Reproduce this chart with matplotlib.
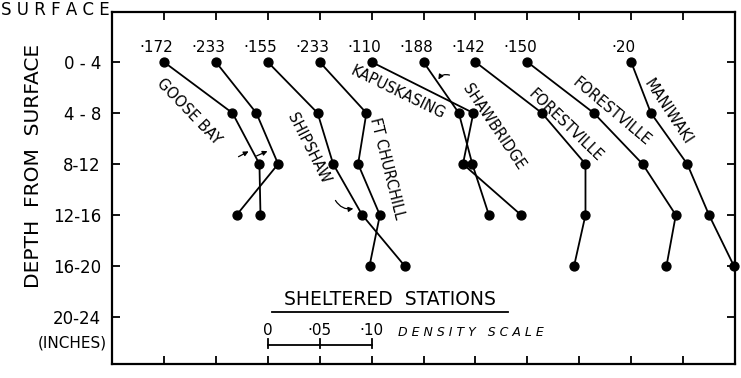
import matplotlib
matplotlib.use("Agg")
import matplotlib.pyplot as plt

# ---------------- data ----------------
depth_labels = ["0 - 4", "4 - 8", "8-12", "12-16", "16-20", "20-24"]
depth_rows = [1, 2, 3, 4, 5, 6]

station_names = ["GOOSE BAY", "GOOSE BAY", "SHIPSHAW", "FT CHURCHILL", "KAPUSKASING",
                 "SHAWBRIDGE", "FORESTVILLE", "FORESTVILLE", "MANIWAKI"]
surface_labels = ["·172", "·233", "·155", "·233", "·110", "·188", "·142", "·150", "·20"]
start_columns = [1, 2, 3, 4, 5, 6, 7, 8, 10]   # tick column where each profile starts

goose_bay_1 = [0.172, 0.238, 0.264, 0.265]
goose_bay_2 = [0.233, 0.272, 0.293, 0.253]
shipshaw = [0.155, 0.203, 0.218, 0.246, 0.287]
ft_churchill = [0.233, 0.278, 0.270, 0.291, 0.281]
kapuskasing = [0.110, 0.208, 0.198, 0.254]
shawbridge = [0.188, 0.222, 0.235, 0.251]
forestville_1 = [0.142, 0.206, 0.248, 0.248, 0.237]
forestville_2 = [0.150, 0.214, 0.261, 0.293, 0.284]
maniwaki = [0.200, 0.219, 0.254, 0.275, 0.299]

profiles = [goose_bay_1, goose_bay_2, shipshaw, ft_churchill, kapuskasing,
            shawbridge, forestville_1, forestville_2, maniwaki]

scale_values = [0.0, 0.05, 0.10]
scale_labels = ["0", "·05", "·10"]

# ---------------- figure ----------------
W, H = 741, 378
fig = plt.figure(figsize=(W / 100, H / 100), dpi=100)
ax = fig.add_axes([112 / W, 1 - 364 / H, 623 / W, 352 / H])

step = 0.05
ax.set_xlim(0, 0.6)
ax.set_ylim(6.92, 0.02)

for d, col in zip(profiles, start_columns):
    xs = [col * step + (v - d[0]) for v in d]
    ys = depth_rows[:len(d)]
    ax.plot(xs, ys, color="black", lw=1.3, marker="o", ms=6.4,
            mfc="black", mec="black", clip_on=False, zorder=3)

for lab, col in zip(surface_labels, start_columns):
    ax.text(col * step - 0.007, 0.71, lab, ha="center", va="center", fontsize=11)

# station labels (rotated, along the profiles)
label_specs = [
    (0.0742, 1.98, -46), (0.189, 2.69, -63), (0.265, 3.08, -76),
    (0.275, 1.59, -26), (0.368, 2.27, -56), (0.437, 2.24, -44),
    (0.481, 1.98, -40), (0.536, 1.98, -56.5),
]
label_names = [station_names[0], station_names[2], station_names[3], station_names[4],
               station_names[5], station_names[6], station_names[7], station_names[8]]
for name, (x, y, r) in zip(label_names, label_specs):
    ax.text(x, y, name, rotation=r, rotation_mode="anchor", ha="center",
            va="center", fontsize=10.5)

# little pointer arrows
def px(xp, yp):
    return ((xp - 112) / 1038.0, (yp - 11) / 51.0)

arrow_kw = dict(arrowstyle="-|>", color="black", lw=0.9, mutation_scale=7)
ax.annotate("", xy=px(251, 150), xytext=px(236, 158), arrowprops=arrow_kw)
ax.annotate("", xy=px(270, 150), xytext=px(254, 157), arrowprops=arrow_kw)
ax.annotate("", xy=px(356, 208), xytext=px(334, 198),
            arrowprops=dict(arrow_kw, connectionstyle="arc3,rad=0.4"))
ax.annotate("", xy=px(437, 82), xytext=px(452, 76),
            arrowprops=dict(arrow_kw, connectionstyle="arc3,rad=0.5"))

# title and density scale
ax.text(0.268, 5.65, "SHELTERED  STATIONS", ha="center", va="center", fontsize=13.5)
ax.plot([0.154, 0.381], [5.90, 5.90], color="black", lw=1.3)

sy = 6.55
sx0 = 3 * step
ax.plot([sx0 + v for v in scale_values][::2], [sy, sy], color="black", lw=1.3)
for v, lab in zip(scale_values, scale_labels):
    ax.plot([sx0 + v, sx0 + v], [sy - 0.12, sy + 0.05], color="black", lw=1.3)
    ax.text(sx0 + v, 6.27, lab, ha="center", va="center", fontsize=11)
ax.text(0.2755, 6.31, "D E N S I T Y   S C A L E", ha="left", va="center",
        fontsize=9, style="italic")

# axes styling
ax.set_yticks(depth_rows)
ax.set_yticklabels(depth_labels, fontsize=12)
ax.set_xticks([k * step for k in range(1, 12)])
ax.set_xticklabels([])
ax.tick_params(direction="in", length=6, width=1.3, top=True, right=True,
               bottom=True, left=True, pad=8)
ax.tick_params(axis="y", labelright=False)
for s in ax.spines.values():
    s.set_linewidth(1.6)

ax.text(-0.005, 6.51, "(INCHES)", ha="right", va="center", fontsize=11,
        transform=ax.transData, clip_on=False)

fig.text(1 / W, 1 - 1 / H, "S U R F A C E", ha="left", va="top", fontsize=12)
fig.text(34 / W, 1 - 166 / H, "DEPTH  FROM  SURFACE", rotation=90, ha="center",
         va="center", fontsize=14.5)

fig.savefig("out.png", dpi=100)
